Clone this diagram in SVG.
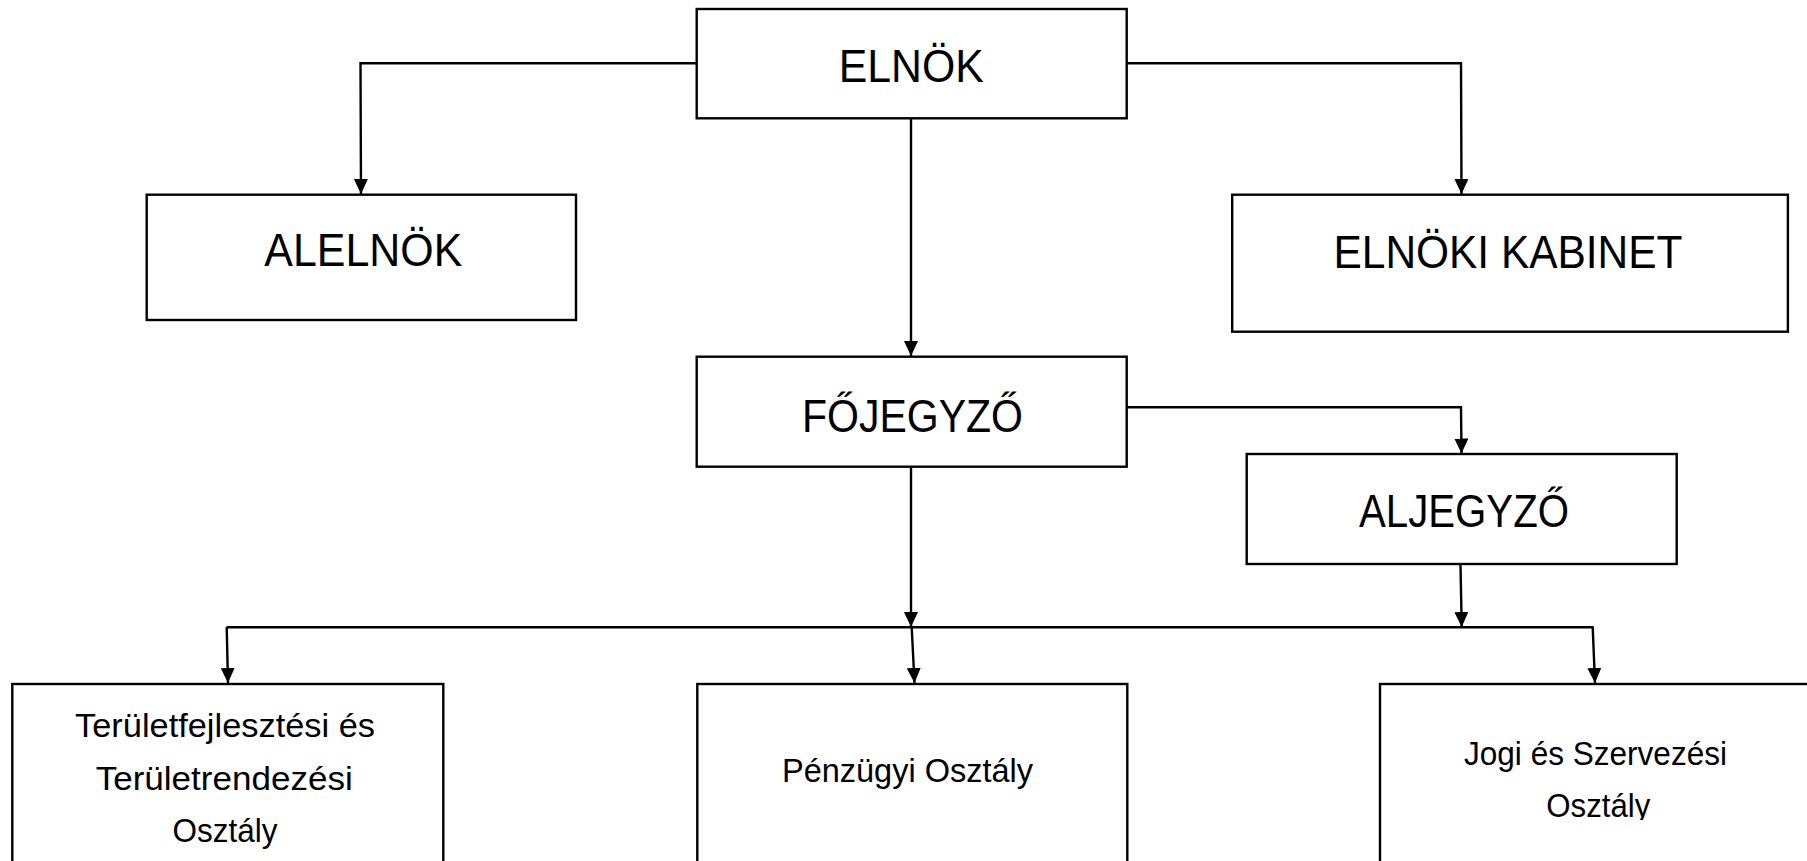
<svg xmlns="http://www.w3.org/2000/svg" width="1807" height="861" viewBox="0 0 1807 861">
<style>
.box{fill:#fff;stroke:#000;stroke-width:2.4}
.t{font-family:"Liberation Sans",Arial,sans-serif;font-size:46px;fill:#000;text-anchor:middle}
.s{font-family:"Liberation Sans",Arial,sans-serif;font-size:32.5px;fill:#000;text-anchor:middle}
.c{fill:none;stroke:#000;stroke-width:2.4}
</style>
<defs>
<marker id="arr" markerUnits="userSpaceOnUse" markerWidth="16" markerHeight="14" refX="15" refY="7" orient="auto">
<path d="M0,0 L15,7 L0,14 z" fill="#000"/>
</marker>
<clipPath id="clipJogi"><rect x="1380" y="684" width="430" height="136"/></clipPath>
</defs>
<rect width="1807" height="861" fill="#fff"/>
<g id="connectors">
<polyline class="c" points="696.7,63.3 360.5,63.3 361,194" marker-end="url(#arr)"/>
<polyline class="c" points="1126.7,63.3 1461,63.3 1461.5,194" marker-end="url(#arr)"/>
<line class="c" x1="911" y1="118.3" x2="911" y2="356" marker-end="url(#arr)"/>
<polyline class="c" points="1126.7,407.3 1461,407.3 1461.5,453.5" marker-end="url(#arr)"/>
<line class="c" x1="911" y1="466.7" x2="911" y2="627" marker-end="url(#arr)"/>
<line class="c" x1="1460.5" y1="565" x2="1461.7" y2="627" marker-end="url(#arr)"/>
<line class="c" x1="226.5" y1="627.3" x2="1593.7" y2="627.3"/>
<line class="c" x1="226.7" y1="627.3" x2="228" y2="683" marker-end="url(#arr)"/>
<line class="c" x1="911.7" y1="627.3" x2="914.5" y2="683" marker-end="url(#arr)"/>
<line class="c" x1="1592.7" y1="627.3" x2="1595" y2="683" marker-end="url(#arr)"/>
</g>
<g id="elnok">
<rect class="box" x="696.7" y="9" width="430" height="109.3"/>
<text class="t" x="911.2" y="81.7" textLength="145" lengthAdjust="spacingAndGlyphs">ELNÖK</text>
</g>
<g id="alelnok">
<rect class="box" x="146.7" y="194.7" width="429.3" height="125.3"/>
<text class="t" x="363.3" y="266" textLength="198" lengthAdjust="spacingAndGlyphs">ALELNÖK</text>
</g>
<g id="elnoki-kabinet">
<rect class="box" x="1232.2" y="194.7" width="555.7" height="137"/>
<text class="t" x="1508" y="268.3" textLength="349" lengthAdjust="spacingAndGlyphs">ELNÖKI KABINET</text>
</g>
<g id="fojegyzo">
<rect class="box" x="696.7" y="356.7" width="430" height="110"/>
<text class="t" x="912.5" y="431.7" textLength="221" lengthAdjust="spacingAndGlyphs">FŐJEGYZŐ</text>
</g>
<g id="aljegyzo">
<rect class="box" x="1246.7" y="454" width="430" height="110"/>
<text class="t" x="1464" y="527.3" textLength="210" lengthAdjust="spacingAndGlyphs">ALJEGYZŐ</text>
</g>
<g id="teruletfejlesztesi">
<rect class="box" x="12.3" y="684" width="431" height="200"/>
<text class="s" x="225" y="736.7" textLength="300" lengthAdjust="spacingAndGlyphs">Területfejlesztési és</text>
<text class="s" x="224.2" y="790" textLength="257" lengthAdjust="spacingAndGlyphs">Területrendezési</text>
<text class="s" x="225" y="841.7" textLength="105" lengthAdjust="spacingAndGlyphs">Osztály</text>
</g>
<g id="penzugyi">
<rect class="box" x="697.3" y="684" width="430" height="200"/>
<text class="s" x="907.5" y="781.7" textLength="251" lengthAdjust="spacingAndGlyphs">Pénzügyi Osztály</text>
</g>
<g id="jogi">
<rect class="box" x="1380" y="684" width="440" height="200"/>
<g clip-path="url(#clipJogi)">
<text class="s" x="1595.5" y="765" textLength="263" lengthAdjust="spacingAndGlyphs">Jogi és Szervezési</text>
<text class="s" x="1598.3" y="816.7" textLength="104" lengthAdjust="spacingAndGlyphs">Osztály</text>
</g>
</g>
</svg>
